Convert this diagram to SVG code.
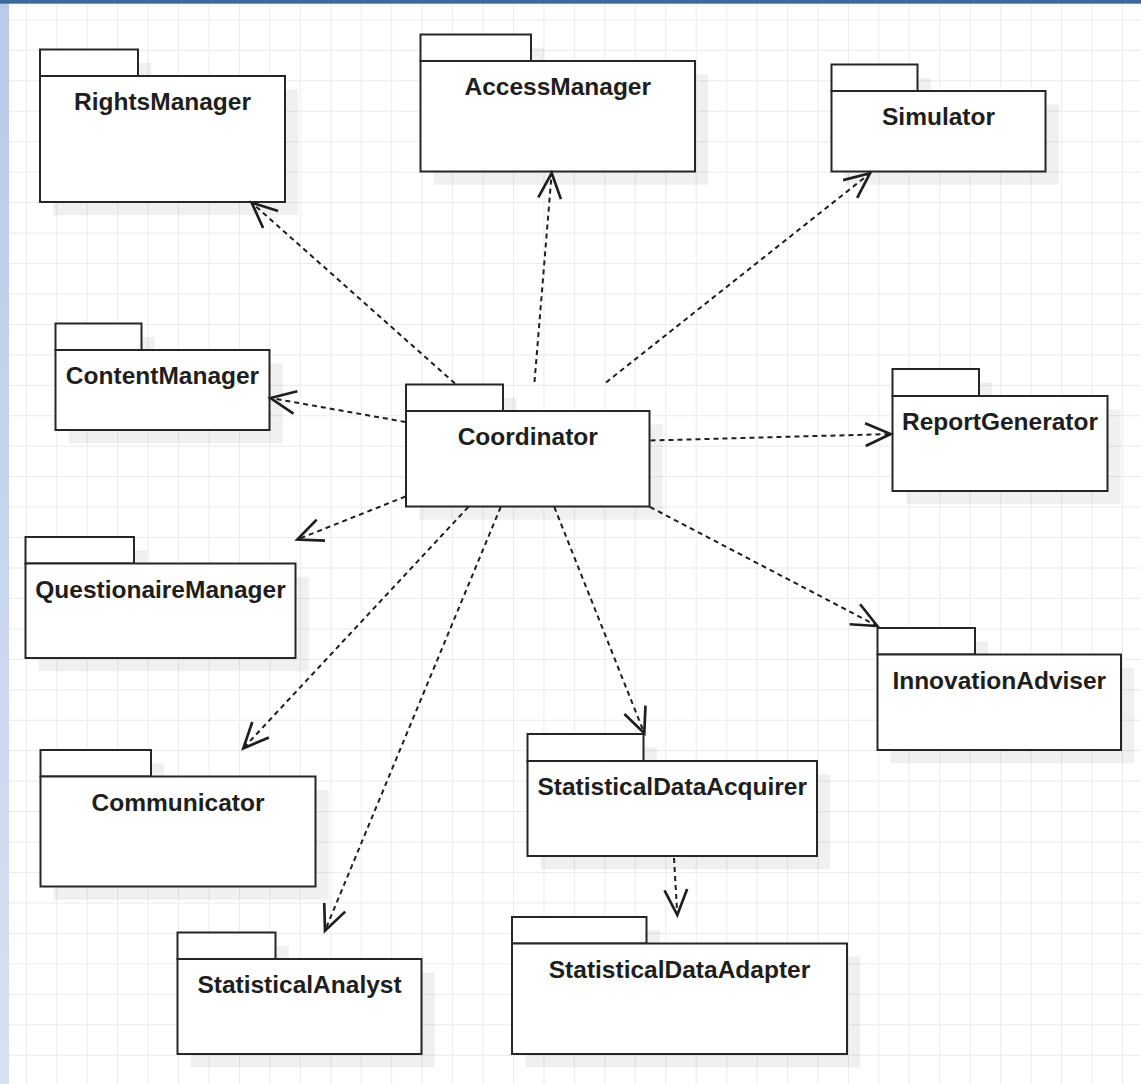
<svg xmlns="http://www.w3.org/2000/svg" width="1141" height="1084" viewBox="0 0 1141 1084">
<style>
.tab,.body{fill:#ffffff;stroke:#262626;stroke-width:2}
.shadow{fill:#000000;opacity:0.06}
.lbl{font-family:"Liberation Sans",Arial,Helvetica,sans-serif;font-weight:bold;font-size:24.5px;fill:#1e1e1e;text-anchor:middle}
.dep{fill:none;stroke:#1e1e1e;stroke-width:2;stroke-dasharray:5 4;marker-end:url(#open)}
</style>
<defs>
<pattern id="grid" patternUnits="userSpaceOnUse" x="25.8" y="19.4" width="30.45" height="30.45">
<path d="M0 0.5H30.45M0.5 0V30.45" fill="none" stroke="#ebebeb" stroke-width="1"/>
</pattern>
<linearGradient id="strip" x1="0" y1="0" x2="0" y2="1">
<stop offset="0" stop-color="#b8cae9"/>
<stop offset="1" stop-color="#d6e0f3"/>
</linearGradient>
<marker id="open" markerUnits="userSpaceOnUse" orient="auto" refX="0" refY="0" markerWidth="40" markerHeight="40" viewBox="-25 -12 30 24" overflow="visible">
<path d="M-19 -8.5L0 0L-19 8.5" fill="none" stroke="#1e1e1e" stroke-width="2" stroke-dasharray="none"/>
</marker>
</defs>
<rect x="0" y="0" width="1141" height="1084" fill="#ffffff"/>
<rect x="0" y="0" width="1141" height="1084" fill="url(#grid)"/>
<rect x="0" y="0" width="9" height="1084" fill="url(#strip)"/>
<rect x="0" y="0" width="1141" height="3.7" fill="#3d6a9b"/>

<g id="RightsManager">
<path class="shadow" transform="translate(13.3,13.3)" d="M40 49.5H138V76H285V202H40Z"/>
<rect class="tab" x="40" y="49.5" width="98" height="26.5"/>
<rect class="body" x="40" y="76" width="245" height="126"/>
<text class="lbl" x="162.5" y="110">RightsManager</text>
</g>

<g id="AccessManager">
<path class="shadow" transform="translate(13.3,13.3)" d="M420.5 34.5H531V61H695V171.5H420.5Z"/>
<rect class="tab" x="420.5" y="34.5" width="110.5" height="26.5"/>
<rect class="body" x="420.5" y="61" width="274.5" height="110.5"/>
<text class="lbl" x="557.75" y="95">AccessManager</text>
</g>

<g id="Simulator">
<path class="shadow" transform="translate(13.3,13.3)" d="M831.5 64.5H917.5V91H1045.5V171.5H831.5Z"/>
<rect class="tab" x="831.5" y="64.5" width="86" height="26.5"/>
<rect class="body" x="831.5" y="91" width="214" height="80.5"/>
<text class="lbl" x="938.5" y="125">Simulator</text>
</g>

<g id="ContentManager">
<path class="shadow" transform="translate(13.3,13.3)" d="M55.5 323.5H141.5V350H269.5V430H55.5Z"/>
<rect class="tab" x="55.5" y="323.5" width="86" height="26.5"/>
<rect class="body" x="55.5" y="350" width="214" height="80"/>
<text class="lbl" x="162.5" y="384">ContentManager</text>
</g>

<g id="Coordinator">
<path class="shadow" transform="translate(13.3,13.3)" d="M406 384.5H503V411H649.5V506.5H406Z"/>
<rect class="tab" x="406" y="384.5" width="97" height="26.5"/>
<rect class="body" x="406" y="411" width="243.5" height="95.5"/>
<text class="lbl" x="527.75" y="445">Coordinator</text>
</g>

<g id="ReportGenerator">
<path class="shadow" transform="translate(13.3,13.3)" d="M892.5 369H979V396H1107.5V491H892.5Z"/>
<rect class="tab" x="892.5" y="369" width="86.5" height="27"/>
<rect class="body" x="892.5" y="396" width="215" height="95"/>
<text class="lbl" x="1000" y="430">ReportGenerator</text>
</g>

<g id="QuestionaireManager">
<path class="shadow" transform="translate(13.3,13.3)" d="M25.5 537H134V563.5H295.5V658H25.5Z"/>
<rect class="tab" x="25.5" y="537" width="108.5" height="26.5"/>
<rect class="body" x="25.5" y="563.5" width="270" height="94.5"/>
<text class="lbl" x="160.5" y="597.5">QuestionaireManager</text>
</g>

<g id="InnovationAdviser">
<path class="shadow" transform="translate(13.3,13.3)" d="M877.5 628H975V654.5H1121V750H877.5Z"/>
<rect class="tab" x="877.5" y="628" width="97.5" height="26.5"/>
<rect class="body" x="877.5" y="654.5" width="243.5" height="95.5"/>
<text class="lbl" x="999.25" y="688.5">InnovationAdviser</text>
</g>

<g id="Communicator">
<path class="shadow" transform="translate(13.3,13.3)" d="M40.5 750H151V776.5H315.5V886.5H40.5Z"/>
<rect class="tab" x="40.5" y="750" width="110.5" height="26.5"/>
<rect class="body" x="40.5" y="776.5" width="275" height="110"/>
<text class="lbl" x="178" y="810.5">Communicator</text>
</g>

<g id="StatisticalDataAcquirer">
<path class="shadow" transform="translate(13.3,13.3)" d="M527.5 734H643.5V761H817V856H527.5Z"/>
<rect class="tab" x="527.5" y="734" width="116" height="27"/>
<rect class="body" x="527.5" y="761" width="289.5" height="95"/>
<text class="lbl" x="672.25" y="795">StatisticalDataAcquirer</text>
</g>

<g id="StatisticalDataAdapter">
<path class="shadow" transform="translate(13.3,13.3)" d="M512 917H646.5V943.5H847V1054H512Z"/>
<rect class="tab" x="512" y="917" width="134.5" height="26.5"/>
<rect class="body" x="512" y="943.5" width="335" height="110.5"/>
<text class="lbl" x="679.5" y="977.5">StatisticalDataAdapter</text>
</g>

<g id="StatisticalAnalyst">
<path class="shadow" transform="translate(13.3,13.3)" d="M177.5 932.5H275.5V959H421.5V1054H177.5Z"/>
<rect class="tab" x="177.5" y="932.5" width="98" height="26.5"/>
<rect class="body" x="177.5" y="959" width="244" height="95"/>
<text class="lbl" x="299.5" y="993">StatisticalAnalyst</text>
</g>

<g id="connectors">
<path class="dep" d="M455 383.5L251.7 202.7"/>
<path class="dep" d="M534.5 382L551.7 173"/>
<path class="dep" d="M606 382.5L870 173.3"/>
<path class="dep" d="M405.5 422L270.5 398"/>
<path class="dep" d="M650.5 440.5L890.7 434"/>
<path class="dep" d="M405.5 496.5L297.3 539.5"/>
<path class="dep" d="M650 507L877.3 626"/>
<path class="dep" d="M468.3 507L243.3 748.3"/>
<path class="dep" d="M500.7 507L325 930.7"/>
<path class="dep" d="M554.3 507L644.3 733.3"/>
<path class="dep" d="M674 858L677.3 915"/>
</g>
</svg>
